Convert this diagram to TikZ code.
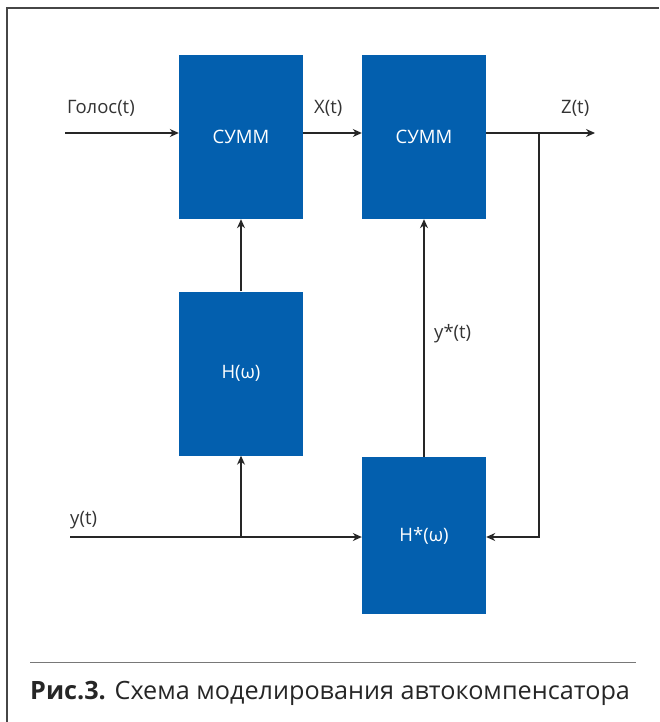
\documentclass[tikz,border=0pt]{standalone}
\usepackage{fontspec}
\setmainfont{Open Sans}
\usetikzlibrary{arrows.meta}
\definecolor{schemeblue}{RGB}{3,95,174}
\definecolor{framegray}{RGB}{70,70,70}
\definecolor{rulegray}{RGB}{120,120,120}
\tikzset{
    block/.style={fill=schemeblue, text=white, inner sep=0pt, minimum width=124pt, minimum height=164pt, font=\fontsize{18.5}{22}\selectfont},
    wire/.style={line width=1.2pt, black!85},
    signal/.style={wire, -{Stealth[length=9pt, width=8pt]}},
    sig-label/.style={anchor=base west, inner sep=0pt, text=black!80, font=\fontsize{18.5}{22}\selectfont},
}

\begin{document}
\begin{tikzpicture}[x=1pt, y=-1pt]
    \useasboundingbox (0,0) rectangle (659,722);
    % frame
    \draw[framegray, line width=2pt] (7,722) -- (7,8) -- (659,8);

    % blocks
    \node[block] (sum1) at (241,137) {СУММ};
    \node[block] (sum2) at (424,137) {СУММ};
    \node[block] (filt) at (241,373.5) {H(ω)};
    \node[block, minimum height=157pt] (filtconj) at (424,535.5) {H*(ω)};

    % end points
    \coordinate (voice-in) at (65,133);
    \coordinate (z-out) at (595,133);
    \coordinate (tap) at (539,133);
    \coordinate (y-in) at (70,537);
    \coordinate (branch) at (241,537);

    % labels
    \node[sig-label] (voice-lbl) at (67,114) {Голос(t)};
    \node[sig-label] (x-lbl) at (314,114) {X(t)};
    \node[sig-label] (z-lbl) at (561,114) {Z(t)};
    \node[sig-label] (y-lbl) at (70,524) {y(t)};
    \node[sig-label] (ystar-lbl) at (434,338) {y*(t)};

    % connections
    \draw[signal] (voice-in) -- (voice-in -| sum1.west);
    \draw[signal] (sum1.east |- voice-in) -- (sum2.west |- voice-in);
    \draw[signal] (sum2.east |- voice-in) -- (z-out);
    \draw[signal] (tap) |- (filtconj.east |- y-in);
    \draw[signal] (y-in) -- (filtconj.west |- y-in);
    \draw[signal] (branch) -- (filt.south);
    \draw[signal] (filt.north) -- (sum1.south);
    \draw[signal] (filtconj.north) -- (sum2.south);

    % caption
    \draw[rulegray, line width=1pt] (30,662) -- (636,662);
    \node[anchor=base west, inner sep=0pt, text=black!85, font=\fontsize{25.2}{29}\selectfont] (caption) at (30,699)
        {\textbf{Рис.3.} Схема моделирования автокомпенсатора};
\end{tikzpicture}
\end{document}
